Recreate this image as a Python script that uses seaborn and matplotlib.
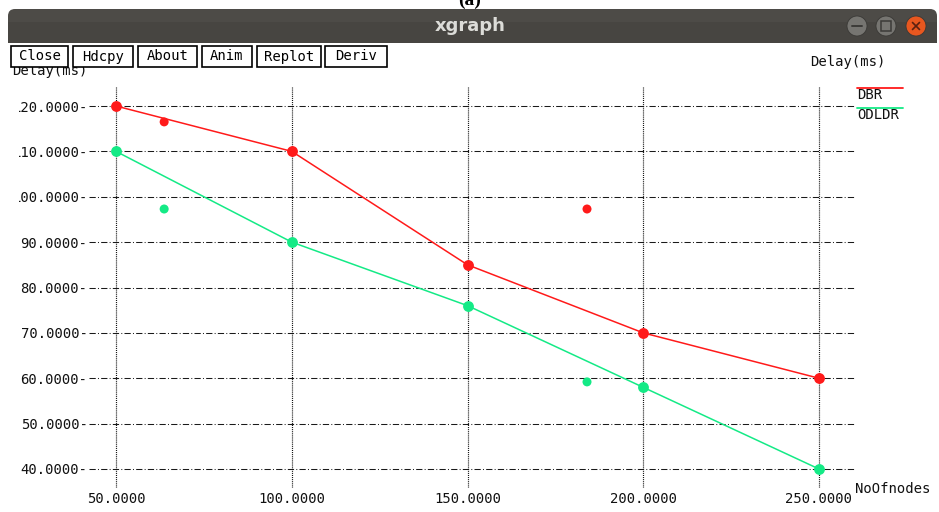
import matplotlib
matplotlib.use("Agg")
import matplotlib.pyplot as plt
import numpy as np
import pandas as pd
import seaborn as sns
from matplotlib.patches import Rectangle, FancyBboxPatch, Circle
from matplotlib.transforms import Bbox, TransformedBbox, IdentityTransform

# ---- data ----
nodes = [50, 100, 150, 200, 250]
dbr_delay = [120, 110, 85, 70, 60]
odldr_delay = [110, 90, 76, 58, 40]
# loose points left on the canvas by the plotting tool
dbr_extra_nodes = [63.7, 184.0]
dbr_extra_delay = [116.5, 97.3]
odldr_extra_nodes = [63.7, 184.0]
odldr_extra_delay = [97.3, 59.2]
series_names = ["DBR", "ODLDR"]
x_ticks = [50, 100, 150, 200, 250]
y_ticks = [40, 50, 60, 70, 80, 90, 100, 110, 120]
buttons = ["Close", "Hdcpy", "About", "Anim", "Replot", "Deriv"]
window_title = "xgraph"
panel_tag = "(a)"
y_title = "Delay(ms)"
x_title = "NoOfnodes"

W, H = 939, 512
RED = "#ff1a1a"
GREEN = "#14ea86"
MONO = "DejaVu Sans Mono"

sns.set_theme(style="white")
plt.rcParams["lines.scale_dashes"] = False
plt.rcParams["font.family"] = [MONO, "DejaVu Sans"]

fig = plt.figure(figsize=(W / 100, H / 100), dpi=100)
fig.patch.set_facecolor("white")

# ---- plot area ----
ax_l, ax_r, ax_t, ax_b = 89, 855, 87, 488
ax = fig.add_axes([ax_l / W, 1 - ax_b / H, (ax_r - ax_l) / W, (ax_b - ax_t) / H])
ax.set_facecolor("white")

df = pd.DataFrame({
    "nodes": nodes * 2,
    "delay": dbr_delay + odldr_delay,
    "protocol": [series_names[0]] * len(nodes) + [series_names[1]] * len(nodes),
})
palette = {series_names[0]: RED, series_names[1]: GREEN}
sns.lineplot(data=df, x="nodes", y="delay", hue="protocol", palette=palette,
             marker="o", markersize=7.8, markeredgewidth=0, linewidth=1.1,
             legend=False, ax=ax, zorder=3)

extra = pd.DataFrame({
    "nodes": dbr_extra_nodes + odldr_extra_nodes,
    "delay": dbr_extra_delay + odldr_extra_delay,
    "protocol": [series_names[0]] * 2 + [series_names[1]] * 2,
})
sns.scatterplot(data=extra, x="nodes", y="delay", hue="protocol", palette=palette,
                s=42, linewidth=0, legend=False, ax=ax, zorder=3)

# x: 50 -> px116, 250 -> px819 ; y: 120 -> px106, 40 -> px469
xs = (819 - 116) / 200.0
ys = (469 - 106) / 80.0
ax.set_xlim(50 - (116 - ax_l) / xs, 250 + (ax_r - 819) / xs)
ax.set_ylim(40 - (ax_b - 469) / ys, 120 + (106 - ax_t) / ys)

for s in ax.spines.values():
    s.set_visible(False)

ax.set_xticks(x_ticks)
ax.set_yticks(y_ticks)
ax.set_xticklabels([f"{v:.4f}" for v in x_ticks])
ax.set_yticklabels([f"{v:.4f}-" for v in y_ticks])
ax.tick_params(axis="both", length=0, labelsize=10, colors="#111111")
ax.tick_params(axis="x", pad=3)
ax.tick_params(axis="y", pad=1)
ax.set_xlabel("")
ax.set_ylabel("")

# grid lines
for v in y_ticks:
    ax.axhline(v, color="#1a1a1a", lw=0.75, dashes=(4.5, 1.6, 0.7, 1.6), zorder=1)
for v in x_ticks:
    ax.axvline(v, color="#111111", lw=0.85, dashes=(0.75, 0.75), zorder=1)

# ---- window decoration, drawn in pixel coordinates ----
deco = fig.add_axes([0, 0, 1, 1], zorder=5)
deco.set_xlim(0, W)
deco.set_ylim(H, 0)
deco.set_facecolor("none")
deco.axis("off")

deco.add_patch(FancyBboxPatch((8, 9), 929, 34,
                              boxstyle="round,pad=0,rounding_size=7",
                              facecolor="#4d4b47", edgecolor="none"))
deco.add_patch(Rectangle((8, 22), 929, 21, facecolor="#474541", edgecolor="none"))
deco.text(470, 26, window_title, ha="center", va="center",
          fontsize=13, fontweight="bold", color="#dcdcd8",
          family=["DejaVu Sans"])
deco.text(470, 0, panel_tag, ha="center", va="center",
          fontsize=14, fontweight="bold", color="black",
          family=["Liberation Serif", "DejaVu Serif"], clip_on=False)

# window controls
for cx, face, mark in [(857, "#767571", "min"), (886, "#767571", "max"),
                       (916, "#e8571f", "close")]:
    deco.add_patch(Circle((cx, 26), 10, facecolor=face, edgecolor="#3a3936", lw=0.6))
    if mark == "min":
        deco.plot([cx - 5, cx + 5], [26, 26], color="#3c3b38", lw=1.4)
    elif mark == "max":
        deco.add_patch(Rectangle((cx - 5, 21), 10, 10, facecolor="none",
                                 edgecolor="#3c3b38", lw=1.1))
    else:
        deco.plot([cx - 3.5, cx + 3.5], [22.5, 29.5], color="#5a2010", lw=1.2)
        deco.plot([cx - 3.5, cx + 3.5], [29.5, 22.5], color="#5a2010", lw=1.2)

# axis titles
deco.text(12, 71, y_title, ha="left", va="center", fontsize=10, color="#111111", zorder=1)
deco.text(810, 62, y_title, ha="left", va="center", fontsize=10, color="#111111")
deco.text(855, 489, x_title, ha="left", va="center", fontsize=10, color="#111111")

# button row (covers the top of the left axis title)
btn_boxes = [(11, 68), (73, 133), (138, 197), (202, 252), (257, 321), (325, 387)]
for name, (x0, x1) in zip(buttons, btn_boxes):
    deco.add_patch(Rectangle((x0, 46), x1 - x0, 21, facecolor="white",
                             edgecolor="black", lw=1.2, zorder=5))
    deco.text((x0 + x1) / 2, 56.5, name, ha="center", va="center",
              fontsize=10, color="black", zorder=6)

# legend: colour line above each name
for i, (name, col) in enumerate(zip(series_names, [RED, GREEN])):
    ly = 88 + 20 * i
    deco.plot([857, 903], [ly, ly], color=col, lw=1.3)
    deco.text(857, ly + 7, name, ha="left", va="center", fontsize=10, color="#111111")

# the window edge cuts off the leading digit of the widest tick labels
fig.canvas.draw()
renderer = fig.canvas.get_renderer()
for lab in ax.get_yticklabels():
    txt = lab.get_text()
    if len(txt) > 8:
        bb = lab.get_window_extent(renderer)
        cw = bb.width / len(txt)
        clip = Bbox([[bb.x0 + 0.8 * cw, 0], [W, H]])
        lab.set_clip_box(TransformedBbox(clip, IdentityTransform()))
        lab.set_clip_on(True)

fig.savefig("out.png", dpi=100, facecolor="white")
